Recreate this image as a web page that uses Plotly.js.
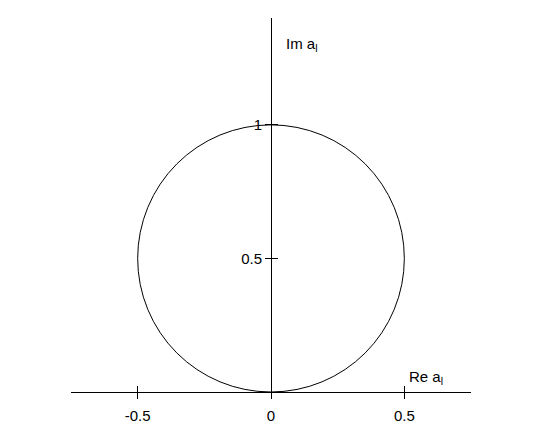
<!DOCTYPE html>
<html>
<head>
<meta charset="utf-8">
<script src="https://cdn.plot.ly/plotly-3.0.1.min.js"></script>
<style>html,body{margin:0;padding:0;background:#fff;}#chart{width:544px;height:438px;}</style>
</head>
<body>
<div id="chart"></div>
<script>
// Unitarity circle: center and radius in the (Re a_l, Im a_l) plane
const circleCenter = [0, 0.5];
const circleRadius = [0.5];
const xTickVals = [-0.5, 0, 0.5];
const xTickText = ["-0.5", "0", "0.5"];
const yTickVals = [0.5, 1];
const yTickText = ["0.5", "1"];
const xLabel = "Re a<sub>l</sub>";
const yLabel = "Im a<sub>l</sub>";

const font = {family: "Liberation Sans, Arial, sans-serif", size: 15, color: "#000"};

const traces = [
  {x: [], y: [], type: "scatter", mode: "lines", xaxis: "x", yaxis: "y", showlegend: false, hoverinfo: "skip"},
  {x: [0], y: [0], type: "scatter", mode: "markers", marker: {opacity: 0}, xaxis: "x2", yaxis: "y2", showlegend: false, hoverinfo: "skip"}
];

const common = {showgrid: false, zeroline: false, ticklen: 6, tickwidth: 1, tickcolor: "#000", tickfont: font, fixedrange: true};

const layout = {
  width: 544, height: 438,
  margin: {l: 71, r: 73, t: 18, b: 46},
  paper_bgcolor: "#fff", plot_bgcolor: "#fff",
  showlegend: false,
  font: font,
  xaxis: Object.assign({}, common, {
    range: [-0.75, 0.75], showline: true, linecolor: "#000", linewidth: 1,
    ticks: "outside", tickmode: "array", tickvals: xTickVals, ticktext: xTickText,
    ticklabelstandoff: 4
  }),
  xaxis2: Object.assign({}, common, {
    range: [-0.75, 0.75], overlaying: "x", anchor: "y", showline: false,
    ticks: "inside", tickmode: "array", tickvals: xTickVals, showticklabels: false
  }),
  yaxis: Object.assign({}, common, {
    range: [0, 1.4], anchor: "free", position: 0.5, showline: true, linecolor: "#000", linewidth: 1,
    ticks: "outside", tickmode: "array", tickvals: yTickVals, ticktext: yTickText
  }),
  yaxis2: Object.assign({}, common, {
    range: [0, 1.4], overlaying: "y", anchor: "free", position: 0.5, showline: false,
    ticks: "inside", tickmode: "array", tickvals: yTickVals, showticklabels: false
  }),
  shapes: [{
    type: "circle", xref: "x", yref: "y",
    x0: circleCenter[0] - circleRadius[0], x1: circleCenter[0] + circleRadius[0],
    y0: circleCenter[1] - circleRadius[0], y1: circleCenter[1] + circleRadius[0],
    line: {color: "#000", width: 1}
  }],
  annotations: [
    {text: yLabel, xref: "x", yref: "y", x: 0.05, y: 1.30, xanchor: "left", yanchor: "middle", showarrow: false, font: font},
    {text: xLabel, xref: "x", yref: "y", x: 0.51, y: 0.055, xanchor: "left", yanchor: "middle", showarrow: false, font: font}
  ]
};

Plotly.newPlot("chart", traces, layout, {staticPlot: true, displayModeBar: false});
</script>
</body>
</html>
